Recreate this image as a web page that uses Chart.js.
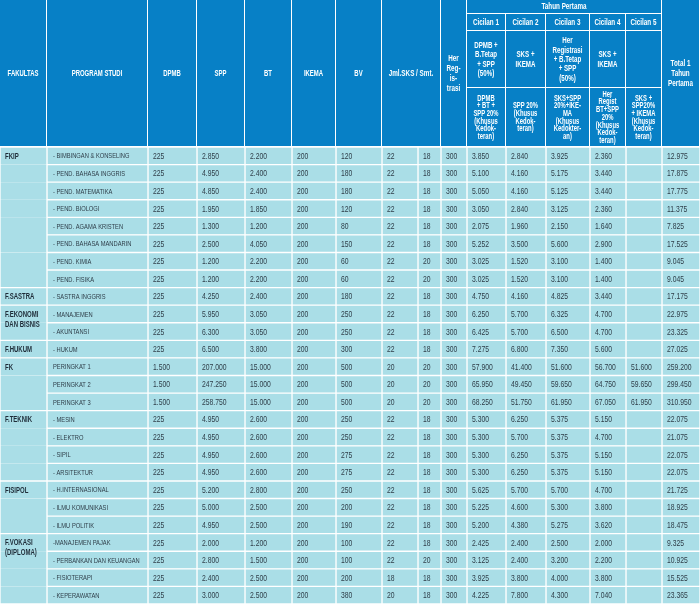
<!DOCTYPE html>
<html>
<head>
<meta charset="utf-8">
<script src="https://cdn.jsdelivr.net/npm/chart.js@4/dist/chart.umd.min.js"></script>
<style>
  html, body { margin: 0; padding: 0; background: #fff; }
  #wrap { width: 700px; height: 606px; }
</style>
</head>
<body>
<div id="wrap"><canvas id="table"></canvas></div>
<script>
// --- data (values in thousand rupiah) ---
const FACULTIES    = ['FKIP', 'F.SASTRA', 'F.EKONOMI\nDAN BISNIS', 'F.HUKUM', 'FK', 'F.TEKNIK', 'FISIPOL', 'F.VOKASI\n(DIPLOMA)'];
const FACULTY_ROWS = [8, 1, 2, 1, 3, 4, 3, 4];

const PROGRAMS = [
  '- BIMBINGAN & KONSELING', '- PEND. BAHASA INGGRIS', '- PEND. MATEMATIKA', '- PEND. BIOLOGI',
  '- PEND. AGAMA KRISTEN', '- PEND. BAHASA MANDARIN', '- PEND. KIMIA', '- PEND. FISIKA',
  '- SASTRA INGGRIS',
  '- MANAJEMEN', '- AKUNTANSI',
  '- HUKUM',
  'PERINGKAT 1', 'PERINGKAT 2', 'PERINGKAT 3',
  '- MESIN', '- ELEKTRO', '- SIPIL', '- ARSITEKTUR',
  '- H.INTERNASIONAL', '- ILMU KOMUNIKASI', '- ILMU POLITIK',
  '-MANAJEMEN PAJAK', '- PERBANKAN DAN KEUANGAN', '- FISIOTERAPI', '- KEPERAWATAN',
];

const DPMB   = [225, 225, 225, 225, 225, 225, 225, 225, 225, 225, 225, 225, 1500, 1500, 1500, 225, 225, 225, 225, 225, 225, 225, 225, 225, 225, 225];
const SPP    = [2850, 4950, 4850, 1950, 1300, 2500, 1200, 1200, 4250, 5950, 6300, 6500, 207000, 247250, 258750, 4950, 4950, 4950, 4950, 5200, 5000, 4950, 2000, 2800, 2400, 3000];
const BT     = [2200, 2400, 2400, 1850, 1200, 4050, 2200, 2200, 2400, 3050, 3050, 3800, 15000, 15000, 15000, 2600, 2600, 2600, 2600, 2800, 2500, 2500, 1200, 1500, 2500, 2500];
const IKEMA  = [200, 200, 200, 200, 200, 200, 200, 200, 200, 200, 200, 200, 200, 200, 200, 200, 200, 200, 200, 200, 200, 200, 200, 200, 200, 200];
const BV     = [120, 180, 180, 120, 80, 150, 60, 60, 180, 250, 250, 300, 500, 500, 500, 250, 250, 275, 275, 250, 200, 190, 100, 100, 200, 380];
const SKS    = [22, 22, 22, 22, 22, 22, 22, 22, 22, 22, 22, 22, 20, 20, 20, 22, 22, 22, 22, 22, 22, 22, 22, 22, 18, 20];
const SMT    = [18, 18, 18, 18, 18, 18, 20, 20, 18, 18, 18, 18, 20, 20, 20, 18, 18, 18, 18, 18, 18, 18, 18, 20, 18, 18];
const HER_REG = [300, 300, 300, 300, 300, 300, 300, 300, 300, 300, 300, 300, 300, 300, 300, 300, 300, 300, 300, 300, 300, 300, 300, 300, 300, 300];
const CICILAN_1 = [3850, 5100, 5050, 3050, 2075, 5252, 3025, 3025, 4750, 6250, 6425, 7275, 57900, 65950, 68250, 5300, 5300, 5300, 5300, 5625, 5225, 5200, 2425, 3125, 3925, 4225];
const CICILAN_2 = [2840, 4160, 4160, 2840, 1960, 3500, 1520, 1520, 4160, 5700, 5700, 6800, 41400, 49450, 51750, 6250, 5700, 6250, 6250, 5700, 4600, 4380, 2400, 2400, 3800, 7800];
const CICILAN_3 = [3925, 5175, 5125, 3125, 2150, 5600, 3100, 3100, 4825, 6325, 6500, 7350, 51600, 59650, 61950, 5375, 5375, 5375, 5375, 5700, 5300, 5275, 2500, 3200, 4000, 4300];
const CICILAN_4 = [2360, 3440, 3440, 2360, 1640, 2900, 1400, 1400, 3440, 4700, 4700, 5600, 56700, 64750, 67050, 5150, 4700, 5150, 5150, 4700, 3800, 3620, 2000, 2200, 3800, 7040];
const CICILAN_5 = [null, null, null, null, null, null, null, null, null, null, null, null, 51600, 59650, 61950, null, null, null, null, null, null, null, null, null, null, null];
const TOTAL  = [12975, 17875, 17775, 11375, 7825, 17525, 9045, 9045, 17175, 22975, 23325, 27025, 259200, 299450, 310950, 22075, 21075, 22075, 22075, 21725, 18925, 18475, 9325, 10925, 15525, 23365];

const CICILAN_TITLES = ['Cicilan 1', 'Cicilan 2', 'Cicilan 3', 'Cicilan 4', 'Cicilan 5'];
const CICILAN_REGULAR = [
  ['DPMB +', 'B.Tetap', '+ SPP', '(50%)'],
  ['SKS +', 'IKEMA'],
  ['Her', 'Registrasi', '+ B.Tetap', '+ SPP', '(50%)'],
  ['SKS +', 'IKEMA'],
  [],
];
const CICILAN_FK = [
  ['DPMB', '+ BT +', 'SPP 20%', '(Khusus', 'Kedok-', 'teran)'],
  ['SPP 20%', '(Khusus', 'Kedok-', 'teran)'],
  ['SKS+SPP', '20%+IKE-', 'MA', '(Khusus', 'Kedokter-', 'an)'],
  ['Her', 'Regist', 'BT+SPP', '20%', '(Khusus', 'Kedok-', 'teran)'],
  ['SKS +', 'SPP20%', '+ IKEMA', '(Khusus', 'Kedok-', 'teran)'],
];

// --- layout ---
const COLUMNS = [null, PROGRAMS, DPMB, SPP, BT, IKEMA, BV, SKS, SMT, HER_REG,
                 CICILAN_1, CICILAN_2, CICILAN_3, CICILAN_4, CICILAN_5, TOTAL];
const COLUMN_EDGES = [0, 47, 148, 197, 245, 292, 336, 382, 418, 441, 467, 506, 546, 590, 626, 662, 700];
const HEADER_H = 147;

const BLUE = '#0780c6';
const CELL_BG = '#aadee7';
const INK = '#2e3d48';
const FONT = '"Liberation Sans", Arial, sans-serif';

const groupStart = new Set();
const groupEnd = new Set();
FACULTY_ROWS.reduce((start, n) => {
  groupStart.add(start);
  groupEnd.add(start + n - 1);
  return start + n;
}, 0);

const fmt = v => v == null ? '' : typeof v === 'string' ? v
  : String(v).replace(/\B(?=(\d{3})+(?!\d))/g, '.');

function facultyBorder(i) {
  return { left: 1, right: 1, top: groupStart.has(i) ? 1 : 0, bottom: groupEnd.has(i) ? 1 : 0 };
}

// the source uses a condensed face, so squeeze a regular one horizontally
function narrowText(ctx, text, x, y, sx) {
  ctx.save();
  ctx.translate(x, y);
  ctx.scale(sx, 1);
  ctx.fillText(text, 0, 0);
  ctx.restore();
}

const tablePlugin = {
  id: 'tableText',
  afterDatasetsDraw(chart) {
    const { ctx } = chart;
    const x = chart.scales.x;
    const xs = i => Math.round(x.getPixelForValue(COLUMN_EDGES[i]));

    // header
    ctx.save();
    ctx.fillStyle = '#fff';
    ctx.fillRect(0, 0, chart.width, HEADER_H);
    ctx.textAlign = 'center';
    ctx.textBaseline = 'middle';

    const cell = (c0, c1, y0, y1, lines, lh = 9, size = 8.5) => {
      const x0 = xs(c0), x1 = xs(c1);
      ctx.fillStyle = BLUE;
      ctx.fillRect(x0, y0, x1 - x0 - 1, y1 - y0 - 1);
      ctx.fillStyle = '#fff';
      ctx.font = `bold ${size}px ${FONT}`;
      const cy = (y0 + y1 - 1) / 2 - (lines.length - 1) * lh / 2 + 0.5;
      lines.forEach((t, k) => narrowText(ctx, t, (x0 + x1 - 1) / 2, cy + k * lh, 0.7));
    };

    cell(0, 1, 0, HEADER_H, ['FAKULTAS']);
    cell(1, 2, 0, HEADER_H, ['PROGRAM STUDI']);
    cell(2, 3, 0, HEADER_H, ['DPMB']);
    cell(3, 4, 0, HEADER_H, ['SPP']);
    cell(4, 5, 0, HEADER_H, ['BT']);
    cell(5, 6, 0, HEADER_H, ['IKEMA']);
    cell(6, 7, 0, HEADER_H, ['BV']);
    cell(7, 9, 0, HEADER_H, ['Jml.SKS / Smt.'], 9, 9);
    cell(9, 10, 0, HEADER_H, ['Her', 'Reg-', 'is-', 'trasi'], 10, 9);
    cell(10, 15, 0, 14, ['Tahun Pertama'], 9, 9);
    CICILAN_TITLES.forEach((t, k) => {
      cell(10 + k, 11 + k, 14, 31, [t], 9, 9);
      cell(10 + k, 11 + k, 31, 88, CICILAN_REGULAR[k], 9.4, 8.8);
      cell(10 + k, 11 + k, 88, HEADER_H, CICILAN_FK[k], 7.7, 8.4);
    });
    cell(15, 16, 0, HEADER_H, ['Total 1', 'Tahun', 'Pertama'], 10, 9);

    // body text
    ctx.textAlign = 'left';
    COLUMNS.forEach((values, c) => {
      if (!values) return;
      const bars = chart.getDatasetMeta(c).data;
      ctx.fillStyle = INK;
      ctx.font = c === 1 ? `8px ${FONT}` : `9.2px ${FONT}`;
      bars.forEach((bar, i) => {
        const pad = c === 1 ? 6 : 5;
        narrowText(ctx, fmt(values[i]), Math.min(bar.base, bar.x) + pad, bar.y + 0.5, c === 1 ? 0.72 : 0.74);
      });
    });

    // faculty names, top of each merged cell
    const facBars = chart.getDatasetMeta(0).data;
    ctx.font = `bold 8.6px ${FONT}`;
    ctx.fillStyle = '#1e2c38';
    let row = 0;
    FACULTIES.forEach((name, g) => {
      const bar = facBars[row];
      name.split('\n').forEach((t, k) => narrowText(ctx, t, bar.base + 5, bar.y + 0.5 + k * 10, 0.7));
      row += FACULTY_ROWS[g];
    });
    ctx.restore();
  },
};

new Chart(document.getElementById('table'), {
  type: 'bar',
  data: {
    labels: PROGRAMS,
    datasets: COLUMNS.map((col, c) => ({
      data: PROGRAMS.map(() => COLUMN_EDGES[c + 1] - COLUMN_EDGES[c]),
      backgroundColor: CELL_BG,
      borderColor: '#fff',
      borderWidth: ctx => c === 0 ? facultyBorder(ctx.dataIndex) : 1,
      borderSkipped: false,
      barPercentage: 1,
      categoryPercentage: 1,
    })),
  },
  options: {
    indexAxis: 'y',
    responsive: true,
    maintainAspectRatio: false,
    animation: false,
    events: [],
    layout: { padding: { top: HEADER_H, bottom: 2, left: 0, right: 0 } },
    scales: {
      x: { type: 'linear', min: 0, max: 700, stacked: true, display: false },
      y: { type: 'category', stacked: true, display: false },
    },
    plugins: { legend: { display: false }, tooltip: { enabled: false } },
  },
  plugins: [tablePlugin],
});
</script>
</body>
</html>
